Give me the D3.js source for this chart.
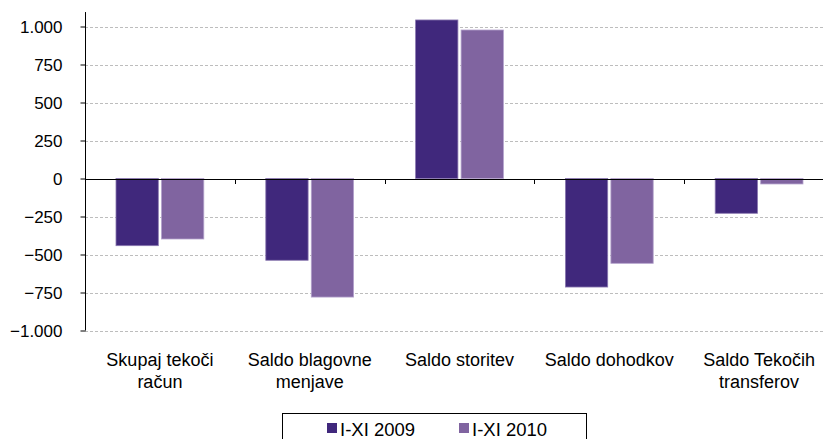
<!DOCTYPE html>
<html>
<head>
<meta charset="utf-8">
<script src="https://cdn.jsdelivr.net/npm/d3@7"></script>
<style>
  body { margin: 0; background: #fff; }
  text { font-family: "Liberation Sans", Arial, sans-serif; fill: #000; }
</style>
</head>
<body>
<div id="chart"></div>
<script>
// data
const categories = [["Skupaj tekoči", "račun"], ["Saldo blagovne", "menjave"], ["Saldo storitev"], ["Saldo dohodkov"], ["Saldo Tekočih", "transferov"]];
const seriesNames = ["I-XI 2009", "I-XI 2010"];
const values2009 = [-442, -538, 1043, -714, -229];
const values2010 = [-398, -780, 977, -558, -36];
const yTicks = [-1000, -750, -500, -250, 0, 250, 500, 750, 1000];
const colors = ["#40287c", "#8064a0"];

const width = 823, height = 439;
const svg = d3.select("#chart").append("svg")
    .attr("width", width)
    .attr("height", height);

// scales
const x = d3.scaleBand()
    .domain(d3.range(categories.length))
    .range([85, 834]);

const xInner = d3.scaleBand()
    .domain([0, 1])
    .range([31, x.bandwidth() - 31])
    .paddingInner(0.07);

const y = d3.scaleLinear()
    .domain([-1000, 1000])
    .range([330.5, 26.5]);

// gridlines
svg.append("g")
    .selectAll("line")
    .data(yTicks.filter(d => d !== 0))
    .enter()
    .append("line")
    .attr("x1", 85)
    .attr("x2", width)
    .attr("y1", d => Math.round(y(d)) + 0.5)
    .attr("y2", d => Math.round(y(d)) + 0.5)
    .attr("stroke", "#bdbdbd")
    .attr("stroke-width", 1)
    .attr("stroke-dasharray", "3,2");

// Y axis
const yAxis = svg.append("g")
    .attr("transform", "translate(85.5,0)")
    .call(d3.axisLeft(y)
        .tickValues(yTicks)
        .tickSize(5)
        .tickPadding(18)
        .tickFormat(d => d3.format(",")(d).replace(/,/g, ".")));
yAxis.select(".domain").remove();
yAxis.selectAll(".tick line").attr("stroke", "#000");
yAxis.selectAll("text")
    .style("font-size", "17px")
    .attr("dy", "0.35em");
svg.append("line")
    .attr("x1", 85.5).attr("x2", 85.5)
    .attr("y1", y(1095)).attr("y2", y(-1000))
    .attr("stroke", "#000");

// bars
const series = [values2009, values2010];
series.forEach((vals, si) => {
    svg.append("g")
        .selectAll("rect")
        .data(vals)
        .enter()
        .append("rect")
        .attr("x", (d, i) => x(i) + xInner(si))
        .attr("width", xInner.bandwidth())
        .attr("y", d => y(Math.max(0, d)))
        .attr("height", d => Math.abs(y(d) - y(0)))
        .attr("fill", colors[si])
        .attr("stroke", si === 0 ? "#8a78b0" : "#b3a2cc")
        .attr("stroke-width", 0.8);
});

// zero line + category ticks
svg.append("line")
    .attr("x1", 85).attr("x2", width)
    .attr("y1", Math.round(y(0)) + 0.5).attr("y2", Math.round(y(0)) + 0.5)
    .attr("stroke", "#000");
svg.append("g")
    .selectAll("line")
    .data(d3.range(1, categories.length))
    .enter()
    .append("line")
    .attr("x1", d => Math.round(x(d)) + 0.5)
    .attr("x2", d => Math.round(x(d)) + 0.5)
    .attr("y1", Math.round(y(0)))
    .attr("y2", Math.round(y(0)) + 5)
    .attr("stroke", "#000");

// category labels
const catLabels = svg.append("g")
    .selectAll("text")
    .data(categories)
    .enter()
    .append("text")
    .attr("x", (d, i) => x(i) + x.bandwidth() / 2)
    .attr("y", 366)
    .attr("text-anchor", "middle")
    .style("font-size", "18px");
catLabels.each(function(d) {
    const t = d3.select(this);
    d.forEach((line, li) => {
        t.append("tspan")
            .attr("x", t.attr("x"))
            .attr("dy", li === 0 ? 0 : "1.2em")
            .text(line);
    });
});

// legend
const legend = svg.append("g");
legend.append("rect")
    .attr("x", 282.5).attr("y", 413.5)
    .attr("width", 304).attr("height", 40)
    .attr("fill", "#fff")
    .attr("stroke", "#000");
const legX = [327, 459];
seriesNames.forEach((name, i) => {
    legend.append("rect")
        .attr("x", legX[i]).attr("y", 423)
        .attr("width", 10).attr("height", 10)
        .attr("fill", colors[i]);
    legend.append("text")
        .attr("x", legX[i] + 13).attr("y", 436)
        .style("font-size", "18.5px")
        .text(name);
});
</script>
</body>
</html>
